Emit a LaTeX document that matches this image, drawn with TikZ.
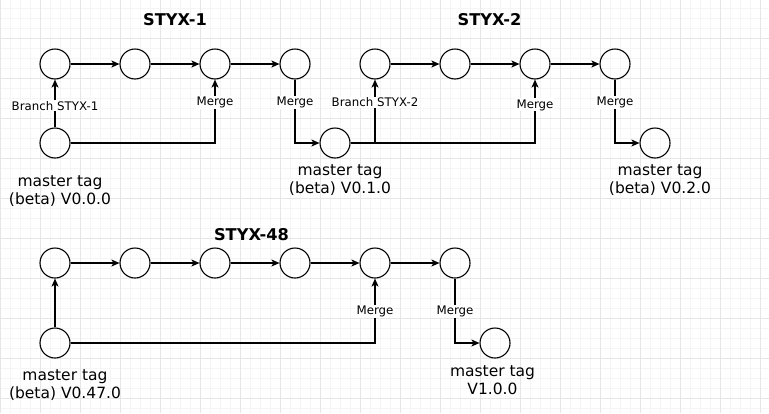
\documentclass[tikz,border=0pt]{standalone}
\usepackage{fontspec}
\setmainfont{DejaVu Sans}
\usetikzlibrary{arrows.meta}
\definecolor{gridmaj}{HTML}{E6E6E6}
\definecolor{gridmin}{HTML}{F5F5F5}
\begin{document}
\begin{tikzpicture}[x=1pt,y=-1pt,
  commit/.style={circle,draw,line width=1.1pt,minimum size=30pt,inner sep=0pt},
  conn/.style={line width=1.1pt,-{Stealth[length=8pt,width=7pt,inset=2pt]}},
  lbl/.style={fill=white,font=\fontsize{11.8}{13}\selectfont,inner sep=1pt},
  tag/.style={align=center,font=\fontsize{15.5}{18.5}\selectfont},
  title/.style={font=\bfseries\fontsize{16.2}{19}\selectfont}]
\useasboundingbox (0,0) rectangle (769,413);
\fill[white] (0,0) rectangle (769,413);
% grid
\foreach \x in {0,10,...,760} \draw[gridmin,line width=0.8pt] (\x,0) -- (\x,413);
\foreach \y in {8,18,...,408} \draw[gridmin,line width=0.8pt] (0,\y) -- (769,\y);
\foreach \x in {0,40,...,760} \draw[gridmaj,line width=0.9pt] (\x,0) -- (\x,413);
\foreach \y in {38,78,...,398} \draw[gridmaj,line width=0.9pt] (0,\y) -- (769,\y);

% titles
\node[title] (t1) at (175,20) {STYX-1};
\node[title] (t2) at (489.5,20) {STYX-2};
\node[title] (t3) at (251.5,235) {STYX-48};

% row 1
\foreach \i/\x in {1/55,2/135,3/215,4/295,5/375,6/455,7/535,8/615}
  \node[commit] (a\i) at (\x,64) {};
\node[commit] (m0) at (55,143) {};
\node[commit] (m1) at (335,143) {};
\node[commit] (m2) at (655,143) {};

% row 2
\foreach \i/\x in {1/55,2/135,3/215,4/295,5/375,6/455}
  \node[commit] (b\i) at (\x,263) {};
\node[commit] (m47) at (55,343) {};
\node[commit] (m100) at (495,343) {};

% tag labels
\node[tag] (l0) at (60,191) {master tag\\(beta) V0.0.0};
\node[tag] (l1) at (340,180) {master tag\\(beta) V0.1.0};
\node[tag] (l2) at (660,180) {master tag\\(beta) V0.2.0};
\node[tag] (l47) at (65,385) {master tag\\(beta) V0.47.0};
\node[tag] (l100) at (492.5,380) {master tag\\V1.0.0};

% row 1 connectors
\draw[conn] (a1) -- (a2);
\draw[conn] (a2) -- (a3);
\draw[conn] (a3) -- (a4);
\draw[conn] (a5) -- (a6);
\draw[conn] (a6) -- (a7);
\draw[conn] (a7) -- (a8);
\draw[conn] (m0) -- node[lbl,pos=0.45]{Branch STYX-1} (a1);
\draw[conn] (m0.east) -| node[lbl,pos=0.82]{Merge} (a3.south);
\draw[conn] (a4.south) |- node[lbl,pos=0.18]{Merge} (m1.west);
\draw[conn] (m1.east) -| node[lbl,pos=0.80]{Merge} (a7.south);
\coordinate (j1) at (375,143);
\draw[conn] (j1) -- node[lbl,pos=0.64]{Branch STYX-2} (a5.south);
\draw[conn] (a8.south) |- node[lbl,pos=0.18]{Merge} (m2.west);

% row 2 connectors
\draw[conn] (b1) -- (b2);
\draw[conn] (b2) -- (b3);
\draw[conn] (b3) -- (b4);
\draw[conn] (b4) -- (b5);
\draw[conn] (b5) -- (b6);
\draw[conn] (m47) -- (b1);
\draw[conn] (m47.east) -| node[lbl,pos=0.745]{Merge} (b5.south);
\draw[conn] (b6.south) |- node[lbl,pos=0.255]{Merge} (m100.west);
\end{tikzpicture}
\end{document}
